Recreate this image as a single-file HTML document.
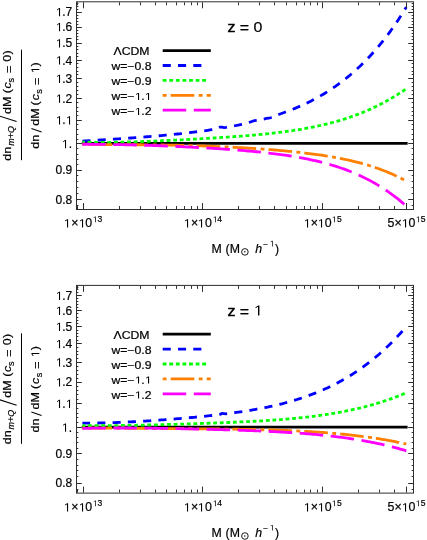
<!DOCTYPE html>
<html><head><meta charset="utf-8"><style>html,body{margin:0;padding:0;background:#fff;}svg{display:block;will-change:transform} text{stroke:#000;stroke-width:0.2px} .g1{fill:#000;stroke:#000;stroke-width:0.2px}</style></head>
<body><svg width="427" height="540" viewBox="0 0 427 540">
<rect width="427" height="540" fill="#fff"></rect>
<line x1="81.80" y1="143.46" x2="407.60" y2="143.46" stroke="#000" stroke-width="2.8"></line>
<path d="M82.40,141.15 L84.42,141.02 L86.45,140.89 L88.47,140.76 L90.50,140.63 L92.52,140.50 L94.55,140.37 L96.57,140.25 L98.60,140.12 L100.62,139.99 L102.64,139.86 L104.67,139.73 L106.69,139.60 L108.72,139.47 L110.74,139.34 L112.77,139.21 L114.79,139.08 L116.81,138.95 L118.84,138.81 L120.86,138.68 L122.89,138.54 L124.91,138.40 L126.94,138.26 L128.96,138.12 L130.99,137.98 L133.01,137.84 L135.03,137.69 L137.06,137.54 L139.08,137.39 L141.11,137.24 L143.13,137.08 L145.16,136.92 L147.18,136.76 L149.20,136.60 L151.23,136.44 L153.25,136.27 L155.28,136.10 L157.30,135.92 L159.33,135.75 L161.35,135.57 L163.38,135.38 L165.40,135.20 L167.42,135.01 L169.45,134.81 L171.47,134.61 L173.50,134.41 L175.52,134.21 L177.55,134.00 L179.57,133.79 L181.59,133.57 L183.62,133.35 L185.64,133.12 L187.67,132.89 L189.69,132.65 L191.72,132.41 L193.74,132.17 L195.77,131.91 L197.79,131.66 L199.81,131.40 L201.84,131.13 L203.86,130.85 L205.89,130.57 L207.91,130.29 L209.94,129.99 L211.96,129.69 L213.99,129.39 L216.01,129.06 L218.03,128.47 L220.06,127.18 L222.08,127.09 L224.11,127.60 L226.13,127.39 L228.16,127.03 L230.18,126.67 L232.20,126.29 L234.23,125.90 L236.25,125.50 L238.28,125.10 L240.30,124.68 L242.33,124.25 L244.35,123.80 L246.38,123.29 L248.40,122.68 L250.42,121.96 L252.45,121.23 L254.47,120.67 L256.50,120.33 L258.52,120.08 L260.55,119.76 L262.57,119.33 L264.59,118.87 L266.62,118.47 L268.64,118.13 L270.67,117.76 L272.69,117.18 L274.72,116.35 L276.74,115.43 L278.77,114.56 L280.79,113.77 L282.81,113.04 L284.84,112.30 L286.86,111.55 L288.89,110.79 L290.91,110.00 L292.94,109.19 L294.96,108.36 L296.98,107.51 L299.01,106.64 L301.03,105.74 L303.06,104.82 L305.08,103.88 L307.11,102.91 L309.13,101.91 L311.16,100.89 L313.18,99.84 L315.20,98.77 L317.23,97.66 L319.25,96.53 L321.28,95.36 L323.30,94.17 L325.33,92.94 L327.35,91.68 L329.38,90.39 L331.40,89.06 L333.42,87.70 L335.45,86.30 L337.47,84.87 L339.50,83.40 L341.52,81.89 L343.55,80.34 L345.57,78.76 L347.59,77.13 L349.62,75.46 L351.64,73.74 L353.67,71.99 L355.69,70.18 L357.72,68.33 L359.74,66.44 L361.77,64.49 L363.79,62.50 L365.81,60.46 L367.84,58.36 L369.86,56.21 L371.89,54.01 L373.91,51.75 L375.94,49.44 L377.96,47.07 L379.98,44.64 L382.01,42.15 L384.03,39.60 L386.06,36.99 L388.08,34.31 L390.11,31.57 L392.13,28.76 L394.16,25.89 L396.18,22.94 L398.20,19.93 L400.23,16.84 L402.25,13.68 L404.28,10.44 L406.30,7.13" fill="none" stroke="#0000ff" stroke-width="2.8" stroke-dasharray="8.1 7.19" stroke-dashoffset="0"></path>
<path d="M82.40,141.97 L84.42,142.03 L86.45,142.09 L88.47,142.15 L90.50,142.19 L92.52,142.23 L94.55,142.26 L96.57,142.29 L98.60,142.31 L100.62,142.32 L102.64,142.32 L104.67,142.32 L106.69,142.32 L108.72,142.31 L110.74,142.29 L112.77,142.27 L114.79,142.25 L116.81,142.22 L118.84,142.18 L120.86,142.15 L122.89,142.10 L124.91,142.06 L126.94,142.01 L128.96,141.96 L130.99,141.90 L133.01,141.84 L135.03,141.78 L137.06,141.72 L139.08,141.65 L141.11,141.58 L143.13,141.51 L145.16,141.43 L147.18,141.36 L149.20,141.28 L151.23,141.19 L153.25,141.11 L155.28,141.03 L157.30,140.94 L159.33,140.85 L161.35,140.76 L163.38,140.67 L165.40,140.58 L167.42,140.48 L169.45,140.39 L171.47,140.29 L173.50,140.19 L175.52,140.09 L177.55,139.99 L179.57,139.89 L181.59,139.79 L183.62,139.69 L185.64,139.58 L187.67,139.47 L189.69,139.37 L191.72,139.26 L193.74,139.15 L195.77,139.04 L197.79,138.93 L199.81,138.81 L201.84,138.70 L203.86,138.58 L205.89,138.46 L207.91,138.35 L209.94,138.23 L211.96,138.10 L213.99,137.98 L216.01,137.85 L218.03,137.73 L220.06,137.60 L222.08,137.47 L224.11,137.34 L226.13,137.20 L228.16,137.06 L230.18,136.92 L232.20,136.78 L234.23,136.64 L236.25,136.49 L238.28,136.34 L240.30,136.19 L242.33,136.03 L244.35,135.87 L246.38,135.71 L248.40,135.54 L250.42,135.37 L252.45,135.20 L254.47,135.02 L256.50,134.83 L258.52,134.65 L260.55,134.45 L262.57,134.26 L264.59,134.05 L266.62,133.85 L268.64,133.63 L270.67,133.41 L272.69,133.19 L274.72,132.96 L276.74,132.72 L278.77,132.47 L280.79,132.22 L282.81,131.96 L284.84,131.69 L286.86,131.42 L288.89,131.14 L290.91,130.85 L292.94,130.55 L294.96,130.24 L296.98,129.92 L299.01,129.59 L301.03,129.26 L303.06,128.91 L305.08,128.55 L307.11,128.18 L309.13,127.80 L311.16,127.41 L313.18,127.01 L315.20,126.59 L317.23,126.17 L319.25,125.73 L321.28,125.27 L323.30,124.81 L325.33,124.33 L327.35,123.83 L329.38,123.32 L331.40,122.80 L333.42,122.25 L335.45,121.70 L337.47,121.13 L339.50,120.54 L341.52,119.93 L343.55,119.31 L345.57,118.66 L347.59,118.00 L349.62,117.32 L351.64,116.63 L353.67,115.91 L355.69,115.17 L357.72,114.41 L359.74,113.63 L361.77,112.83 L363.79,112.00 L365.81,111.16 L367.84,110.29 L369.86,109.39 L371.89,108.48 L373.91,107.54 L375.94,106.57 L377.96,105.58 L379.98,104.56 L382.01,103.51 L384.03,102.44 L386.06,101.34 L388.08,100.21 L390.11,99.06 L392.13,97.87 L394.16,96.65 L396.18,95.41 L398.20,94.13 L400.23,92.82 L402.25,91.48 L404.28,90.11 L406.30,88.70" fill="none" stroke="#00ff00" stroke-width="2.8" stroke-dasharray="3.8 2.79" stroke-dashoffset="1.41"></path>
<path d="M82.40,144.04 L84.42,144.10 L86.45,144.17 L88.47,144.22 L90.50,144.28 L92.52,144.32 L94.55,144.37 L96.57,144.40 L98.60,144.44 L100.62,144.47 L102.64,144.50 L104.67,144.52 L106.69,144.55 L108.72,144.57 L110.74,144.59 L112.77,144.60 L114.79,144.62 L116.81,144.63 L118.84,144.65 L120.86,144.66 L122.89,144.67 L124.91,144.68 L126.94,144.69 L128.96,144.70 L130.99,144.71 L133.01,144.72 L135.03,144.74 L137.06,144.75 L139.08,144.76 L141.11,144.77 L143.13,144.79 L145.16,144.80 L147.18,144.82 L149.20,144.84 L151.23,144.85 L153.25,144.87 L155.28,144.89 L157.30,144.92 L159.33,144.94 L161.35,144.97 L163.38,145.00 L165.40,145.03 L167.42,145.06 L169.45,145.09 L171.47,145.13 L173.50,145.16 L175.52,145.20 L177.55,145.24 L179.57,145.29 L181.59,145.33 L183.62,145.38 L185.64,145.43 L187.67,145.48 L189.69,145.54 L191.72,145.60 L193.74,145.66 L195.77,145.72 L197.79,145.78 L199.81,145.85 L201.84,145.91 L203.86,145.98 L205.89,146.06 L207.91,146.13 L209.94,146.21 L211.96,146.29 L213.99,146.37 L216.01,146.46 L218.03,146.54 L220.06,146.63 L222.08,146.72 L224.11,146.82 L226.13,146.91 L228.16,147.01 L230.18,147.11 L232.20,147.22 L234.23,147.32 L236.25,147.43 L238.28,147.54 L240.30,147.66 L242.33,147.77 L244.35,147.89 L246.38,148.01 L248.40,148.14 L250.42,148.26 L252.45,148.39 L254.47,148.52 L256.50,148.66 L258.52,148.80 L260.55,148.94 L262.57,149.08 L264.59,149.23 L266.62,149.38 L268.64,149.54 L270.67,149.69 L272.69,149.85 L274.72,150.02 L276.74,150.19 L278.77,150.36 L280.79,150.54 L282.81,150.72 L284.84,150.90 L286.86,151.09 L288.89,151.29 L290.91,151.48 L292.94,151.69 L294.96,151.90 L296.98,152.11 L299.01,152.33 L301.03,152.55 L303.06,152.79 L305.08,153.02 L307.11,153.27 L309.13,153.52 L311.16,153.77 L313.18,154.04 L315.20,154.31 L317.23,154.59 L319.25,154.88 L321.28,155.17 L323.30,155.48 L325.33,155.79 L327.35,156.11 L329.38,156.45 L331.40,156.79 L333.42,157.14 L335.45,157.51 L337.47,157.88 L339.50,158.27 L341.52,158.66 L343.55,159.08 L345.57,159.50 L347.59,159.94 L349.62,160.39 L351.64,160.85 L353.67,161.33 L355.69,161.83 L357.72,162.34 L359.74,162.87 L361.77,163.42 L363.79,163.98 L365.81,164.56 L367.84,165.16 L369.86,165.78 L371.89,166.42 L373.91,167.08 L375.94,167.76 L377.96,168.47 L379.98,169.19 L382.01,169.95 L384.03,170.72 L386.06,171.52 L388.08,172.35 L390.11,173.20 L392.13,174.08 L394.16,174.99 L396.18,175.93 L398.20,176.90 L400.23,177.90 L402.25,178.93 L404.28,179.99 L406.30,181.09" fill="none" stroke="#ff8000" stroke-width="2.8" stroke-dasharray="23.6 4.4 3.9 4.1" stroke-dashoffset="29.75"></path>
<path d="M82.40,144.25 L84.42,144.25 L86.45,144.26 L88.47,144.27 L90.50,144.28 L92.52,144.29 L94.55,144.31 L96.57,144.32 L98.60,144.34 L100.62,144.36 L102.64,144.38 L104.67,144.40 L106.69,144.43 L108.72,144.46 L110.74,144.48 L112.77,144.52 L114.79,144.55 L116.81,144.58 L118.84,144.62 L120.86,144.66 L122.89,144.70 L124.91,144.74 L126.94,144.79 L128.96,144.83 L130.99,144.88 L133.01,144.93 L135.03,144.98 L137.06,145.04 L139.08,145.09 L141.11,145.15 L143.13,145.21 L145.16,145.27 L147.18,145.34 L149.20,145.40 L151.23,145.47 L153.25,145.54 L155.28,145.61 L157.30,145.68 L159.33,145.75 L161.35,145.83 L163.38,145.91 L165.40,145.99 L167.42,146.07 L169.45,146.15 L171.47,146.24 L173.50,146.32 L175.52,146.41 L177.55,146.50 L179.57,146.59 L181.59,146.69 L183.62,146.78 L185.64,146.88 L187.67,146.98 L189.69,147.08 L191.72,147.18 L193.74,147.28 L195.77,147.39 L197.79,147.50 L199.81,147.61 L201.84,147.72 L203.86,147.83 L205.89,147.95 L207.91,148.07 L209.94,148.19 L211.96,148.31 L213.99,148.43 L216.01,148.56 L218.03,148.69 L220.06,148.82 L222.08,148.96 L224.11,149.10 L226.13,149.24 L228.16,149.38 L230.18,149.52 L232.20,149.67 L234.23,149.83 L236.25,149.98 L238.28,150.14 L240.30,150.30 L242.33,150.47 L244.35,150.64 L246.38,150.81 L248.40,150.99 L250.42,151.17 L252.45,151.36 L254.47,151.55 L256.50,151.75 L258.52,151.95 L260.55,152.16 L262.57,152.37 L264.59,152.59 L266.62,152.81 L268.64,153.04 L270.67,153.28 L272.69,153.52 L274.72,153.77 L276.74,154.03 L278.77,154.30 L280.79,154.57 L282.81,154.85 L284.84,155.14 L286.86,155.44 L288.89,155.75 L290.91,156.06 L292.94,156.39 L294.96,156.72 L296.98,157.07 L299.01,157.43 L301.03,157.80 L303.06,158.18 L305.08,158.57 L307.11,158.97 L309.13,159.39 L311.16,159.82 L313.18,160.27 L315.20,160.73 L317.23,161.20 L319.25,161.69 L321.28,162.19 L323.30,162.71 L325.33,163.25 L327.35,163.80 L329.38,164.38 L331.40,164.97 L333.42,165.57 L335.45,166.20 L337.47,166.85 L339.50,167.52 L341.52,168.21 L343.55,168.93 L345.57,169.66 L347.59,170.42 L349.62,171.20 L351.64,172.01 L353.67,172.85 L355.69,173.70 L357.72,174.59 L359.74,175.50 L361.77,176.45 L363.79,177.42 L365.81,178.42 L367.84,179.45 L369.86,180.51 L371.89,181.61 L373.91,182.74 L375.94,183.90 L377.96,185.10 L379.98,186.33 L382.01,187.61 L384.03,188.91 L386.06,190.26 L388.08,191.65 L390.11,193.08 L392.13,194.55 L394.16,196.06 L396.18,197.62 L398.20,199.22 L400.23,200.86 L402.25,202.56 L404.28,204.30 L406.30,206.09" fill="none" stroke="#ff00ff" stroke-width="2.8" stroke-dasharray="23.5 7.58" stroke-dashoffset="0.22"></path>
<rect x="76.5" y="1.80" width="337.0" height="207.7" fill="none" stroke="#2e2e2e" stroke-width="1"></rect>
<path d="M77.0,199.5h4.8M413.0,199.5h-4.8M77.0,170.5h4.8M413.0,170.5h-4.8M77.0,143.5h4.8M413.0,143.5h-4.8M77.0,120.5h4.8M413.0,120.5h-4.8M77.0,98.5h4.8M413.0,98.5h-4.8M77.0,78.5h4.8M413.0,78.5h-4.8M77.0,60.5h4.8M413.0,60.5h-4.8M77.0,43.5h4.8M413.0,43.5h-4.8M77.0,27.5h4.8M413.0,27.5h-4.8M77.0,12.5h4.8M413.0,12.5h-4.8M83.5,209.0v-6M83.5,2.3v6M202.5,209.0v-6M202.5,2.3v6M322.5,209.0v-6M322.5,2.3v6M406.5,209.0v-6M406.5,2.3v6" stroke="#2e2e2e" stroke-width="1" fill="none"></path>
<path d="M77.0,205.5h1.4M413.0,205.5h-1.4M77.0,193.5h1.4M413.0,193.5h-1.4M77.0,187.5h1.4M413.0,187.5h-1.4M77.0,181.5h1.4M413.0,181.5h-1.4M77.0,175.5h1.4M413.0,175.5h-1.4M77.0,164.5h1.4M413.0,164.5h-1.4M77.0,159.5h1.4M413.0,159.5h-1.4M77.0,154.5h1.4M413.0,154.5h-1.4M77.0,148.5h1.4M413.0,148.5h-1.4M77.0,139.5h1.4M413.0,139.5h-1.4M77.0,134.5h1.4M413.0,134.5h-1.4M77.0,129.5h1.4M413.0,129.5h-1.4M77.0,124.5h1.4M413.0,124.5h-1.4M77.0,115.5h1.4M413.0,115.5h-1.4M77.0,111.5h1.4M413.0,111.5h-1.4M77.0,107.5h1.4M413.0,107.5h-1.4M77.0,102.5h1.4M413.0,102.5h-1.4M77.0,94.5h1.4M413.0,94.5h-1.4M77.0,90.5h1.4M413.0,90.5h-1.4M77.0,86.5h1.4M413.0,86.5h-1.4M77.0,82.5h1.4M413.0,82.5h-1.4M77.0,74.5h1.4M413.0,74.5h-1.4M77.0,71.5h1.4M413.0,71.5h-1.4M77.0,67.5h1.4M413.0,67.5h-1.4M77.0,63.5h1.4M413.0,63.5h-1.4M77.0,56.5h1.4M413.0,56.5h-1.4M77.0,53.5h1.4M413.0,53.5h-1.4M77.0,49.5h1.4M413.0,49.5h-1.4M77.0,46.5h1.4M413.0,46.5h-1.4M77.0,39.5h1.4M413.0,39.5h-1.4M77.0,36.5h1.4M413.0,36.5h-1.4M77.0,33.5h1.4M413.0,33.5h-1.4M77.0,30.5h1.4M413.0,30.5h-1.4M77.0,24.5h1.4M413.0,24.5h-1.4M77.0,21.5h1.4M413.0,21.5h-1.4M77.0,18.5h1.4M413.0,18.5h-1.4M77.0,15.5h1.4M413.0,15.5h-1.4M77.0,9.5h1.4M413.0,9.5h-1.4M77.0,6.5h1.4M413.0,6.5h-1.4M77.0,3.5h1.4M413.0,3.5h-1.4M77.5,209.0v-3M77.5,2.3v3M119.5,209.0v-3M119.5,2.3v3M140.5,209.0v-3M140.5,2.3v3M155.5,209.0v-3M155.5,2.3v3M166.5,209.0v-3M166.5,2.3v3M176.5,209.0v-3M176.5,2.3v3M184.5,209.0v-3M184.5,2.3v3M191.5,209.0v-3M191.5,2.3v3M197.5,209.0v-3M197.5,2.3v3M238.5,209.0v-3M238.5,2.3v3M259.5,209.0v-3M259.5,2.3v3M274.5,209.0v-3M274.5,2.3v3M286.5,209.0v-3M286.5,2.3v3M296.5,209.0v-3M296.5,2.3v3M304.5,209.0v-3M304.5,2.3v3M310.5,209.0v-3M310.5,2.3v3M317.5,209.0v-3M317.5,2.3v3M358.5,209.0v-3M358.5,2.3v3M379.5,209.0v-3M379.5,2.3v3M394.5,209.0v-3M394.5,2.3v3" stroke="#333" stroke-width="1" fill="none"></path>
<text x="72.20" y="203.61" font-size="12" text-anchor="end" font-family="Liberation Sans, sans-serif">0.8</text>
<text x="72.20" y="174.34" font-size="12" text-anchor="end" font-family="Liberation Sans, sans-serif">0.9</text>
<text x="72.20" y="148.16" font-size="12" text-anchor="end" font-family="Liberation Sans, sans-serif"> .</text><path transform="translate(61.98,148.16) scale(0.005859,-0.005859)" d="M515,0 L515,1237 L197,1010 L197,1180 L530,1409 L696,1409 L696,0 Z" class="g1"></path>
<text x="72.20" y="124.48" font-size="12" text-anchor="end" font-family="Liberation Sans, sans-serif"> . </text><path transform="translate(65.98,124.48) scale(0.005859,-0.005859)" d="M515,0 L515,1237 L197,1010 L197,1180 L530,1409 L696,1409 L696,0 Z" class="g1"></path><path transform="translate(55.98,124.48) scale(0.005859,-0.005859)" d="M515,0 L515,1237 L197,1010 L197,1180 L530,1409 L696,1409 L696,0 Z" class="g1"></path>
<text x="72.20" y="102.85" font-size="12" text-anchor="end" font-family="Liberation Sans, sans-serif"> .2</text><path transform="translate(55.98,102.85) scale(0.005859,-0.005859)" d="M515,0 L515,1237 L197,1010 L197,1180 L530,1409 L696,1409 L696,0 Z" class="g1"></path>
<text x="72.20" y="82.96" font-size="12" text-anchor="end" font-family="Liberation Sans, sans-serif"> .3</text><path transform="translate(55.98,82.96) scale(0.005859,-0.005859)" d="M515,0 L515,1237 L197,1010 L197,1180 L530,1409 L696,1409 L696,0 Z" class="g1"></path>
<text x="72.20" y="64.55" font-size="12" text-anchor="end" font-family="Liberation Sans, sans-serif"> .4</text><path transform="translate(55.98,64.55) scale(0.005859,-0.005859)" d="M515,0 L515,1237 L197,1010 L197,1180 L530,1409 L696,1409 L696,0 Z" class="g1"></path>
<text x="72.20" y="47.40" font-size="12" text-anchor="end" font-family="Liberation Sans, sans-serif"> .5</text><path transform="translate(55.98,47.40) scale(0.005859,-0.005859)" d="M515,0 L515,1237 L197,1010 L197,1180 L530,1409 L696,1409 L696,0 Z" class="g1"></path>
<text x="72.20" y="31.36" font-size="12" text-anchor="end" font-family="Liberation Sans, sans-serif"> .6</text><path transform="translate(55.98,31.36) scale(0.005859,-0.005859)" d="M515,0 L515,1237 L197,1010 L197,1180 L530,1409 L696,1409 L696,0 Z" class="g1"></path>
<text x="72.20" y="16.30" font-size="12" text-anchor="end" font-family="Liberation Sans, sans-serif"> .7</text><path transform="translate(55.98,16.30) scale(0.005859,-0.005859)" d="M515,0 L515,1237 L197,1010 L197,1180 L530,1409 L696,1409 L696,0 Z" class="g1"></path>
<text transform="translate(83.30,227.40) scale(1.03,1)" text-anchor="middle" font-size="12" font-family="Liberation Sans, sans-serif"> × 0<tspan font-size="8.3" dy="-5.2" dx="0.6"> 3</tspan></text><path transform="translate(83.30,227.40) scale(1.03,1) translate(9.27,-5.20) scale(0.004053,-0.004053)" d="M515,0 L515,1237 L197,1010 L197,1180 L530,1409 L696,1409 L696,0 Z" class="g1"></path><path transform="translate(83.30,227.40) scale(1.03,1) translate(-4.28,0.00) scale(0.005859,-0.005859)" d="M515,0 L515,1237 L197,1010 L197,1180 L530,1409 L696,1409 L696,0 Z" class="g1"></path><path transform="translate(83.30,227.40) scale(1.03,1) translate(-18.84,0.00) scale(0.005859,-0.005859)" d="M515,0 L515,1237 L197,1010 L197,1180 L530,1409 L696,1409 L696,0 Z" class="g1"></path>
<text transform="translate(203.05,227.40) scale(1.03,1)" text-anchor="middle" font-size="12" font-family="Liberation Sans, sans-serif"> × 0<tspan font-size="8.3" dy="-5.2" dx="0.6"> 4</tspan></text><path transform="translate(203.05,227.40) scale(1.03,1) translate(9.51,-5.20) scale(0.004053,-0.004053)" d="M515,0 L515,1237 L197,1010 L197,1180 L530,1409 L696,1409 L696,0 Z" class="g1"></path><path transform="translate(203.05,227.40) scale(1.03,1) translate(-5.01,0.00) scale(0.005859,-0.005859)" d="M515,0 L515,1237 L197,1010 L197,1180 L530,1409 L696,1409 L696,0 Z" class="g1"></path><path transform="translate(203.05,227.40) scale(1.03,1) translate(-18.60,0.00) scale(0.005859,-0.005859)" d="M515,0 L515,1237 L197,1010 L197,1180 L530,1409 L696,1409 L696,0 Z" class="g1"></path>
<text transform="translate(322.80,227.40) scale(1.03,1)" text-anchor="middle" font-size="12" font-family="Liberation Sans, sans-serif"> × 0<tspan font-size="8.3" dy="-5.2" dx="0.6"> 5</tspan></text><path transform="translate(322.80,227.40) scale(1.03,1) translate(8.79,-5.20) scale(0.004053,-0.004053)" d="M515,0 L515,1237 L197,1010 L197,1180 L530,1409 L696,1409 L696,0 Z" class="g1"></path><path transform="translate(322.80,227.40) scale(1.03,1) translate(-4.77,0.00) scale(0.005859,-0.005859)" d="M515,0 L515,1237 L197,1010 L197,1180 L530,1409 L696,1409 L696,0 Z" class="g1"></path><path transform="translate(322.80,227.40) scale(1.03,1) translate(-18.36,0.00) scale(0.005859,-0.005859)" d="M515,0 L515,1237 L197,1010 L197,1180 L530,1409 L696,1409 L696,0 Z" class="g1"></path>
<text transform="translate(406.50,227.40) scale(1.03,1)" text-anchor="middle" font-size="12" font-family="Liberation Sans, sans-serif">5× 0<tspan font-size="8.3" dy="-5.2" dx="0.6"> 5</tspan></text><path transform="translate(406.50,227.40) scale(1.03,1) translate(9.08,-5.20) scale(0.004053,-0.004053)" d="M515,0 L515,1237 L197,1010 L197,1180 L530,1409 L696,1409 L696,0 Z" class="g1"></path><path transform="translate(406.50,227.40) scale(1.03,1) translate(-4.47,0.00) scale(0.005859,-0.005859)" d="M515,0 L515,1237 L197,1010 L197,1180 L530,1409 L696,1409 L696,0 Z" class="g1"></path>
<text x="211.40" y="252.60" font-size="12.3" text-anchor="start" font-family="Liberation Sans, sans-serif">M</text>
<text x="225.60" y="252.60" font-size="12.3" text-anchor="start" font-family="Liberation Sans, sans-serif">(</text>
<text x="229.80" y="252.60" font-size="12.3" text-anchor="start" font-family="Liberation Sans, sans-serif">M</text>
<circle cx="244.9" cy="251.90" r="3.3" fill="none" stroke="#000" stroke-width="0.9"></circle><circle cx="244.8" cy="251.80" r="0.75" fill="#000"></circle>
<text x="255.3" y="252.60" font-size="12.3" font-family="Liberation Sans, sans-serif" font-style="italic">h</text>
<text x="263.20" y="246.50" font-size="8.3" text-anchor="start" font-family="Liberation Sans, sans-serif">−</text>
<text x="269.50" y="246.50" font-size="8.3" text-anchor="start" font-family="Liberation Sans, sans-serif"> </text><path transform="translate(269.91,246.50) scale(0.004053,-0.004053)" d="M515,0 L515,1237 L197,1010 L197,1180 L530,1409 L696,1409 L696,0 Z" class="g1"></path>
<text x="275.00" y="252.60" font-size="12.3" text-anchor="start" font-family="Liberation Sans, sans-serif">)</text>
<text transform="translate(227.40,31.90) scale(1.1,1)" font-size="14.5" text-anchor="start" font-family="Liberation Sans, sans-serif"><tspan stroke="#000" stroke-width="0.45">z</tspan> <tspan dy="1.3">=</tspan> <tspan dy="-1.3">0</tspan></text>
<text transform="translate(131.50,55.30) scale(1.2,1)" font-size="10.2" text-anchor="middle" font-family="Liberation Sans, sans-serif">ΛCDM</text>
<line x1="162.7" y1="50.60" x2="210.8" y2="50.60" stroke="#000000" stroke-width="2.8" stroke-dashoffset="0"></line>
<text transform="translate(131.50,70.20) scale(1.2,1)" font-size="10.2" text-anchor="middle" font-family="Liberation Sans, sans-serif">w=−0.8</text>
<line x1="162.7" y1="65.50" x2="204" y2="65.50" stroke="#0000ff" stroke-width="2.8" stroke-dasharray="8.1 7.19" stroke-dashoffset="0"></line>
<text transform="translate(131.50,85.10) scale(1.2,1)" font-size="10.2" text-anchor="middle" font-family="Liberation Sans, sans-serif">w=−0.9</text>
<line x1="162.7" y1="80.40" x2="206.5" y2="80.40" stroke="#00ff00" stroke-width="2.8" stroke-dasharray="3.8 2.79" stroke-dashoffset="0"></line>
<text transform="translate(131.50,100.00) scale(1.2,1)" font-size="10.2" text-anchor="middle" font-family="Liberation Sans, sans-serif">w=− . </text><path transform="translate(131.50,100.00) scale(1.2,1) translate(11.19,0.00) scale(0.004980,-0.004980)" d="M515,0 L515,1237 L197,1010 L197,1180 L530,1409 L696,1409 L696,0 Z" class="g1"></path><path transform="translate(131.50,100.00) scale(1.2,1) translate(2.85,0.00) scale(0.004980,-0.004980)" d="M515,0 L515,1237 L197,1010 L197,1180 L530,1409 L696,1409 L696,0 Z" class="g1"></path>
<line x1="162.7" y1="95.30" x2="210.8" y2="95.30" stroke="#ff8000" stroke-width="2.8" stroke-dasharray="23.6 4.4 3.9 4.1" stroke-dashoffset="28.0"></line>
<text transform="translate(131.50,114.90) scale(1.2,1)" font-size="10.2" text-anchor="middle" font-family="Liberation Sans, sans-serif">w=− .2</text><path transform="translate(131.50,114.90) scale(1.2,1) translate(2.85,0.00) scale(0.004980,-0.004980)" d="M515,0 L515,1237 L197,1010 L197,1180 L530,1409 L696,1409 L696,0 Z" class="g1"></path>
<line x1="162.7" y1="110.20" x2="210.8" y2="110.20" stroke="#ff00ff" stroke-width="2.8" stroke-dasharray="23.5 7.58" stroke-dashoffset="0"></line>
<g transform="rotate(-90)"><text transform="translate(-160.63,11.30) scale(1.1,1)" font-size="11.4" font-family="Liberation Sans, sans-serif">dn</text><text transform="translate(-145.85,14.00) scale(1.1,1)" font-size="8.2" font-family="Liberation Sans, sans-serif" font-style="italic">m+Q</text><text transform="translate(-114.03,11.30) scale(1.1,1)" font-size="11.4" font-family="Liberation Sans, sans-serif">dM</text><text transform="translate(-93.18,11.30) scale(1.1,1)" font-size="11.4" font-family="Liberation Sans, sans-serif">(</text><text transform="translate(-88.41,11.30) scale(1.1,1)" font-size="11.4" font-family="Liberation Sans, sans-serif" font-style="italic">c</text><text transform="translate(-82.45,13.80) scale(1.1,1)" font-size="8.2" font-family="Liberation Sans, sans-serif">s</text><text transform="translate(-73.11,12.50) scale(1.1,1)" font-size="11.4" font-family="Liberation Sans, sans-serif">=</text><text transform="translate(-61.69,11.30) scale(1.1,1)" font-size="11.4" font-family="Liberation Sans, sans-serif">0</text><text transform="translate(-54.38,11.30) scale(1.1,1)" font-size="11.4" font-family="Liberation Sans, sans-serif">)</text><text transform="translate(-148.83,39.30) scale(1.1,1)" font-size="11.4" font-family="Liberation Sans, sans-serif">dn</text><text transform="translate(-125.83,39.30) scale(1.1,1)" font-size="11.4" font-family="Liberation Sans, sans-serif">dM</text><text transform="translate(-105.48,39.30) scale(1.1,1)" font-size="11.4" font-family="Liberation Sans, sans-serif">(</text><text transform="translate(-100.31,39.30) scale(1.1,1)" font-size="11.4" font-family="Liberation Sans, sans-serif" font-style="italic">c</text><text transform="translate(-93.65,41.80) scale(1.1,1)" font-size="8.2" font-family="Liberation Sans, sans-serif">s</text><text transform="translate(-85.11,40.50) scale(1.1,1)" font-size="11.4" font-family="Liberation Sans, sans-serif">=</text><text transform="translate(-73.65,39.30) scale(1.1,1)" font-size="11.4" font-family="Liberation Sans, sans-serif"> </text><path transform="translate(-73.65,39.30) scale(1.1,1) translate(0.35,0.00) scale(0.005566,-0.005566)" d="M515,0 L515,1237 L197,1010 L197,1180 L530,1409 L696,1409 L696,0 Z" class="g1"></path><text transform="translate(-66.58,39.30) scale(1.1,1)" font-size="11.4" font-family="Liberation Sans, sans-serif">)</text></g>
<line x1="16.6" y1="121.60" x2="-0.5" y2="116.10" stroke="#000" stroke-width="1.05"></line>
<line x1="41.6" y1="131.90" x2="31.4" y2="128.40" stroke="#000" stroke-width="1.05"></line>
<line x1="21.5" y1="49.70" x2="21.5" y2="160.20" stroke="#000" stroke-width="1"></line>
<line x1="81.80" y1="427.06" x2="407.60" y2="427.06" stroke="#000" stroke-width="2.8"></line>
<path d="M82.40,423.07 L84.42,423.09 L86.45,423.10 L88.47,423.10 L90.50,423.09 L92.52,423.08 L94.55,423.06 L96.57,423.04 L98.60,423.01 L100.62,422.97 L102.64,422.93 L104.67,422.88 L106.69,422.83 L108.72,422.77 L110.74,422.70 L112.77,422.64 L114.79,422.56 L116.81,422.49 L118.84,422.41 L120.86,422.32 L122.89,422.23 L124.91,422.14 L126.94,422.04 L128.96,421.95 L130.99,421.84 L133.01,421.74 L135.03,421.63 L137.06,421.51 L139.08,421.40 L141.11,421.28 L143.13,421.16 L145.16,421.04 L147.18,420.91 L149.20,420.78 L151.23,420.65 L153.25,420.52 L155.28,420.38 L157.30,420.24 L159.33,420.10 L161.35,419.95 L163.38,419.81 L165.40,419.66 L167.42,419.51 L169.45,419.36 L171.47,419.20 L173.50,419.04 L175.52,418.88 L177.55,418.72 L179.57,418.55 L181.59,418.38 L183.62,418.21 L185.64,418.04 L187.67,417.86 L189.69,417.68 L191.72,417.50 L193.74,417.31 L195.77,417.12 L197.79,416.93 L199.81,416.74 L201.84,416.54 L203.86,416.34 L205.89,416.13 L207.91,415.92 L209.94,415.71 L211.96,415.49 L213.99,415.26 L216.01,415.04 L218.03,414.79 L220.06,414.31 L222.08,413.46 L224.11,413.55 L226.13,413.77 L228.16,413.57 L230.18,413.31 L232.20,413.04 L234.23,412.76 L236.25,412.48 L238.28,412.19 L240.30,411.89 L242.33,411.59 L244.35,411.28 L246.38,410.96 L248.40,410.63 L250.42,410.29 L252.45,409.95 L254.47,409.60 L256.50,409.23 L258.52,408.86 L260.55,408.48 L262.57,408.09 L264.59,407.69 L266.62,407.27 L268.64,406.85 L270.67,406.41 L272.69,405.96 L274.72,405.50 L276.74,405.03 L278.77,404.55 L280.79,404.05 L282.81,403.53 L284.84,403.01 L286.86,402.46 L288.89,401.91 L290.91,401.34 L292.94,400.75 L294.96,400.14 L296.98,399.52 L299.01,398.89 L301.03,398.23 L303.06,397.56 L305.08,396.87 L307.11,396.16 L309.13,395.43 L311.16,394.68 L313.18,393.91 L315.20,393.11 L317.23,392.30 L319.25,391.47 L321.28,390.61 L323.30,389.73 L325.33,388.83 L327.35,387.90 L329.38,386.95 L331.40,385.97 L333.42,384.97 L335.45,383.94 L337.47,382.89 L339.50,381.80 L341.52,380.69 L343.55,379.55 L345.57,378.38 L347.59,377.19 L349.62,375.96 L351.64,374.70 L353.67,373.41 L355.69,372.08 L357.72,370.73 L359.74,369.34 L361.77,367.91 L363.79,366.46 L365.81,364.96 L367.84,363.43 L369.86,361.86 L371.89,360.26 L373.91,358.62 L375.94,356.94 L377.96,355.21 L379.98,353.45 L382.01,351.65 L384.03,349.81 L386.06,347.92 L388.08,345.99 L390.11,344.02 L392.13,342.00 L394.16,339.93 L396.18,337.82 L398.20,335.66 L400.23,333.46 L402.25,331.21 L404.28,328.90 L406.30,326.55" fill="none" stroke="#0000ff" stroke-width="2.8" stroke-dasharray="8.1 7.19" stroke-dashoffset="0.39"></path>
<path d="M82.40,425.56 L84.42,425.59 L86.45,425.62 L88.47,425.64 L90.50,425.65 L92.52,425.66 L94.55,425.67 L96.57,425.68 L98.60,425.68 L100.62,425.68 L102.64,425.68 L104.67,425.67 L106.69,425.66 L108.72,425.65 L110.74,425.63 L112.77,425.61 L114.79,425.59 L116.81,425.57 L118.84,425.55 L120.86,425.52 L122.89,425.49 L124.91,425.46 L126.94,425.43 L128.96,425.39 L130.99,425.36 L133.01,425.32 L135.03,425.28 L137.06,425.24 L139.08,425.20 L141.11,425.16 L143.13,425.11 L145.16,425.07 L147.18,425.02 L149.20,424.98 L151.23,424.93 L153.25,424.88 L155.28,424.83 L157.30,424.78 L159.33,424.72 L161.35,424.67 L163.38,424.62 L165.40,424.56 L167.42,424.51 L169.45,424.45 L171.47,424.40 L173.50,424.34 L175.52,424.28 L177.55,424.22 L179.57,424.16 L181.59,424.10 L183.62,424.04 L185.64,423.98 L187.67,423.92 L189.69,423.85 L191.72,423.79 L193.74,423.73 L195.77,423.66 L197.79,423.60 L199.81,423.53 L201.84,423.46 L203.86,423.39 L205.89,423.32 L207.91,423.25 L209.94,423.18 L211.96,423.11 L213.99,423.04 L216.01,422.96 L218.03,422.89 L220.06,422.81 L222.08,422.73 L224.11,422.66 L226.13,422.57 L228.16,422.49 L230.18,422.41 L232.20,422.32 L234.23,422.24 L236.25,422.15 L238.28,422.06 L240.30,421.96 L242.33,421.87 L244.35,421.77 L246.38,421.67 L248.40,421.57 L250.42,421.47 L252.45,421.36 L254.47,421.25 L256.50,421.14 L258.52,421.02 L260.55,420.91 L262.57,420.78 L264.59,420.66 L266.62,420.53 L268.64,420.40 L270.67,420.26 L272.69,420.13 L274.72,419.98 L276.74,419.84 L278.77,419.68 L280.79,419.53 L282.81,419.37 L284.84,419.20 L286.86,419.03 L288.89,418.86 L290.91,418.68 L292.94,418.49 L294.96,418.30 L296.98,418.10 L299.01,417.90 L301.03,417.69 L303.06,417.47 L305.08,417.25 L307.11,417.02 L309.13,416.79 L311.16,416.55 L313.18,416.30 L315.20,416.04 L317.23,415.77 L319.25,415.50 L321.28,415.22 L323.30,414.93 L325.33,414.63 L327.35,414.33 L329.38,414.01 L331.40,413.69 L333.42,413.35 L335.45,413.01 L337.47,412.65 L339.50,412.29 L341.52,411.92 L343.55,411.53 L345.57,411.13 L347.59,410.73 L349.62,410.31 L351.64,409.88 L353.67,409.43 L355.69,408.98 L357.72,408.51 L359.74,408.03 L361.77,407.54 L363.79,407.03 L365.81,406.51 L367.84,405.98 L369.86,405.43 L371.89,404.87 L373.91,404.29 L375.94,403.70 L377.96,403.09 L379.98,402.47 L382.01,401.83 L384.03,401.17 L386.06,400.50 L388.08,399.81 L390.11,399.10 L392.13,398.38 L394.16,397.64 L396.18,396.88 L398.20,396.10 L400.23,395.30 L402.25,394.48 L404.28,393.64 L406.30,392.79" fill="none" stroke="#00ff00" stroke-width="2.8" stroke-dasharray="3.8 2.79" stroke-dashoffset="0.95"></path>
<path d="M82.40,427.98 L84.42,428.00 L86.45,428.01 L88.47,428.02 L90.50,428.03 L92.52,428.05 L94.55,428.06 L96.57,428.08 L98.60,428.09 L100.62,428.11 L102.64,428.12 L104.67,428.14 L106.69,428.15 L108.72,428.17 L110.74,428.18 L112.77,428.20 L114.79,428.21 L116.81,428.23 L118.84,428.25 L120.86,428.26 L122.89,428.28 L124.91,428.29 L126.94,428.31 L128.96,428.32 L130.99,428.34 L133.01,428.35 L135.03,428.37 L137.06,428.39 L139.08,428.40 L141.11,428.42 L143.13,428.43 L145.16,428.44 L147.18,428.46 L149.20,428.47 L151.23,428.49 L153.25,428.50 L155.28,428.52 L157.30,428.53 L159.33,428.55 L161.35,428.56 L163.38,428.57 L165.40,428.59 L167.42,428.60 L169.45,428.62 L171.47,428.63 L173.50,428.64 L175.52,428.66 L177.55,428.67 L179.57,428.68 L181.59,428.70 L183.62,428.71 L185.64,428.73 L187.67,428.74 L189.69,428.76 L191.72,428.77 L193.74,428.79 L195.77,428.80 L197.79,428.82 L199.81,428.83 L201.84,428.85 L203.86,428.87 L205.89,428.88 L207.91,428.90 L209.94,428.92 L211.96,428.94 L213.99,428.96 L216.01,428.98 L218.03,429.00 L220.06,429.02 L222.08,429.04 L224.11,429.07 L226.13,429.09 L228.16,429.11 L230.18,429.14 L232.20,429.17 L234.23,429.20 L236.25,429.22 L238.28,429.25 L240.30,429.29 L242.33,429.32 L244.35,429.35 L246.38,429.39 L248.40,429.42 L250.42,429.46 L252.45,429.50 L254.47,429.55 L256.50,429.59 L258.52,429.63 L260.55,429.68 L262.57,429.73 L264.59,429.78 L266.62,429.83 L268.64,429.89 L270.67,429.95 L272.69,430.01 L274.72,430.07 L276.74,430.13 L278.77,430.20 L280.79,430.27 L282.81,430.34 L284.84,430.42 L286.86,430.50 L288.89,430.58 L290.91,430.66 L292.94,430.75 L294.96,430.84 L296.98,430.94 L299.01,431.03 L301.03,431.13 L303.06,431.24 L305.08,431.35 L307.11,431.46 L309.13,431.58 L311.16,431.70 L313.18,431.82 L315.20,431.95 L317.23,432.08 L319.25,432.22 L321.28,432.36 L323.30,432.51 L325.33,432.66 L327.35,432.81 L329.38,432.97 L331.40,433.14 L333.42,433.31 L335.45,433.49 L337.47,433.67 L339.50,433.86 L341.52,434.05 L343.55,434.25 L345.57,434.45 L347.59,434.66 L349.62,434.88 L351.64,435.10 L353.67,435.33 L355.69,435.57 L357.72,435.81 L359.74,436.06 L361.77,436.31 L363.79,436.58 L365.81,436.85 L367.84,437.13 L369.86,437.41 L371.89,437.70 L373.91,438.00 L375.94,438.31 L377.96,438.63 L379.98,438.95 L382.01,439.29 L384.03,439.63 L386.06,439.98 L388.08,440.33 L390.11,440.70 L392.13,441.08 L394.16,441.46 L396.18,441.86 L398.20,442.26 L400.23,442.68 L402.25,443.10 L404.28,443.53 L406.30,443.98" fill="none" stroke="#ff8000" stroke-width="2.8" stroke-dasharray="23.6 4.4 3.9 4.1" stroke-dashoffset="30.05"></path>
<path d="M82.40,428.44 L84.42,428.39 L86.45,428.34 L88.47,428.29 L90.50,428.25 L92.52,428.21 L94.55,428.17 L96.57,428.14 L98.60,428.11 L100.62,428.08 L102.64,428.06 L104.67,428.04 L106.69,428.03 L108.72,428.01 L110.74,428.00 L112.77,427.99 L114.79,427.99 L116.81,427.98 L118.84,427.98 L120.86,427.98 L122.89,427.99 L124.91,427.99 L126.94,428.00 L128.96,428.01 L130.99,428.02 L133.01,428.03 L135.03,428.05 L137.06,428.06 L139.08,428.08 L141.11,428.10 L143.13,428.12 L145.16,428.14 L147.18,428.17 L149.20,428.19 L151.23,428.22 L153.25,428.25 L155.28,428.27 L157.30,428.30 L159.33,428.33 L161.35,428.37 L163.38,428.40 L165.40,428.43 L167.42,428.47 L169.45,428.50 L171.47,428.54 L173.50,428.58 L175.52,428.61 L177.55,428.65 L179.57,428.69 L181.59,428.73 L183.62,428.77 L185.64,428.82 L187.67,428.86 L189.69,428.90 L191.72,428.95 L193.74,428.99 L195.77,429.04 L197.79,429.08 L199.81,429.13 L201.84,429.18 L203.86,429.23 L205.89,429.28 L207.91,429.33 L209.94,429.38 L211.96,429.43 L213.99,429.48 L216.01,429.54 L218.03,429.59 L220.06,429.65 L222.08,429.70 L224.11,429.76 L226.13,429.82 L228.16,429.88 L230.18,429.94 L232.20,430.00 L234.23,430.07 L236.25,430.13 L238.28,430.20 L240.30,430.26 L242.33,430.33 L244.35,430.40 L246.38,430.48 L248.40,430.55 L250.42,430.62 L252.45,430.70 L254.47,430.78 L256.50,430.86 L258.52,430.94 L260.55,431.03 L262.57,431.12 L264.59,431.21 L266.62,431.30 L268.64,431.39 L270.67,431.49 L272.69,431.59 L274.72,431.69 L276.74,431.80 L278.77,431.91 L280.79,432.02 L282.81,432.13 L284.84,432.25 L286.86,432.37 L288.89,432.49 L290.91,432.62 L292.94,432.75 L294.96,432.89 L296.98,433.03 L299.01,433.17 L301.03,433.32 L303.06,433.47 L305.08,433.63 L307.11,433.79 L309.13,433.95 L311.16,434.12 L313.18,434.30 L315.20,434.48 L317.23,434.67 L319.25,434.86 L321.28,435.06 L323.30,435.26 L325.33,435.47 L327.35,435.68 L329.38,435.90 L331.40,436.13 L333.42,436.37 L335.45,436.61 L337.47,436.86 L339.50,437.11 L341.52,437.37 L343.55,437.64 L345.57,437.92 L347.59,438.21 L349.62,438.50 L351.64,438.80 L353.67,439.11 L355.69,439.43 L357.72,439.76 L359.74,440.09 L361.77,440.44 L363.79,440.79 L365.81,441.16 L367.84,441.53 L369.86,441.91 L371.89,442.31 L373.91,442.71 L375.94,443.13 L377.96,443.56 L379.98,443.99 L382.01,444.44 L384.03,444.90 L386.06,445.37 L388.08,445.86 L390.11,446.35 L392.13,446.86 L394.16,447.38 L396.18,447.92 L398.20,448.46 L400.23,449.03 L402.25,449.60 L404.28,450.19 L406.30,450.79" fill="none" stroke="#ff00ff" stroke-width="2.8" stroke-dasharray="23.5 7.58" stroke-dashoffset="0.11"></path>
<rect x="76.5" y="285.40" width="337.0" height="207.7" fill="none" stroke="#2e2e2e" stroke-width="1"></rect>
<path d="M77.0,483.5h4.8M413.0,483.5h-4.8M77.0,453.5h4.8M413.0,453.5h-4.8M77.0,427.5h4.8M413.0,427.5h-4.8M77.0,403.5h4.8M413.0,403.5h-4.8M77.0,382.5h4.8M413.0,382.5h-4.8M77.0,362.5h4.8M413.0,362.5h-4.8M77.0,343.5h4.8M413.0,343.5h-4.8M77.0,326.5h4.8M413.0,326.5h-4.8M77.0,310.5h4.8M413.0,310.5h-4.8M77.0,295.5h4.8M413.0,295.5h-4.8M83.5,492.6v-6M83.5,285.90000000000003v6M202.5,492.6v-6M202.5,285.90000000000003v6M322.5,492.6v-6M322.5,285.90000000000003v6M406.5,492.6v-6M406.5,285.90000000000003v6" stroke="#2e2e2e" stroke-width="1" fill="none"></path>
<path d="M77.0,489.5h1.4M413.0,489.5h-1.4M77.0,476.5h1.4M413.0,476.5h-1.4M77.0,470.5h1.4M413.0,470.5h-1.4M77.0,465.5h1.4M413.0,465.5h-1.4M77.0,459.5h1.4M413.0,459.5h-1.4M77.0,448.5h1.4M413.0,448.5h-1.4M77.0,442.5h1.4M413.0,442.5h-1.4M77.0,437.5h1.4M413.0,437.5h-1.4M77.0,432.5h1.4M413.0,432.5h-1.4M77.0,422.5h1.4M413.0,422.5h-1.4M77.0,417.5h1.4M413.0,417.5h-1.4M77.0,413.5h1.4M413.0,413.5h-1.4M77.0,408.5h1.4M413.0,408.5h-1.4M77.0,399.5h1.4M413.0,399.5h-1.4M77.0,394.5h1.4M413.0,394.5h-1.4M77.0,390.5h1.4M413.0,390.5h-1.4M77.0,386.5h1.4M413.0,386.5h-1.4M77.0,378.5h1.4M413.0,378.5h-1.4M77.0,374.5h1.4M413.0,374.5h-1.4M77.0,370.5h1.4M413.0,370.5h-1.4M77.0,366.5h1.4M413.0,366.5h-1.4M77.0,358.5h1.4M413.0,358.5h-1.4M77.0,354.5h1.4M413.0,354.5h-1.4M77.0,351.5h1.4M413.0,351.5h-1.4M77.0,347.5h1.4M413.0,347.5h-1.4M77.0,340.5h1.4M413.0,340.5h-1.4M77.0,336.5h1.4M413.0,336.5h-1.4M77.0,333.5h1.4M413.0,333.5h-1.4M77.0,330.5h1.4M413.0,330.5h-1.4M77.0,323.5h1.4M413.0,323.5h-1.4M77.0,320.5h1.4M413.0,320.5h-1.4M77.0,317.5h1.4M413.0,317.5h-1.4M77.0,313.5h1.4M413.0,313.5h-1.4M77.0,307.5h1.4M413.0,307.5h-1.4M77.0,304.5h1.4M413.0,304.5h-1.4M77.0,301.5h1.4M413.0,301.5h-1.4M77.0,298.5h1.4M413.0,298.5h-1.4M77.0,292.5h1.4M413.0,292.5h-1.4M77.0,289.5h1.4M413.0,289.5h-1.4M77.0,287.5h1.4M413.0,287.5h-1.4M77.5,492.6v-3M77.5,285.90000000000003v3M119.5,492.6v-3M119.5,285.90000000000003v3M140.5,492.6v-3M140.5,285.90000000000003v3M155.5,492.6v-3M155.5,285.90000000000003v3M166.5,492.6v-3M166.5,285.90000000000003v3M176.5,492.6v-3M176.5,285.90000000000003v3M184.5,492.6v-3M184.5,285.90000000000003v3M191.5,492.6v-3M191.5,285.90000000000003v3M197.5,492.6v-3M197.5,285.90000000000003v3M238.5,492.6v-3M238.5,285.90000000000003v3M259.5,492.6v-3M259.5,285.90000000000003v3M274.5,492.6v-3M274.5,285.90000000000003v3M286.5,492.6v-3M286.5,285.90000000000003v3M296.5,492.6v-3M296.5,285.90000000000003v3M304.5,492.6v-3M304.5,285.90000000000003v3M310.5,492.6v-3M310.5,285.90000000000003v3M317.5,492.6v-3M317.5,285.90000000000003v3M358.5,492.6v-3M358.5,285.90000000000003v3M379.5,492.6v-3M379.5,285.90000000000003v3M394.5,492.6v-3M394.5,285.90000000000003v3" stroke="#333" stroke-width="1" fill="none"></path>
<text x="72.20" y="487.21" font-size="12" text-anchor="end" font-family="Liberation Sans, sans-serif">0.8</text>
<text x="72.20" y="457.94" font-size="12" text-anchor="end" font-family="Liberation Sans, sans-serif">0.9</text>
<text x="72.20" y="431.76" font-size="12" text-anchor="end" font-family="Liberation Sans, sans-serif"> .</text><path transform="translate(61.98,431.76) scale(0.005859,-0.005859)" d="M515,0 L515,1237 L197,1010 L197,1180 L530,1409 L696,1409 L696,0 Z" class="g1"></path>
<text x="72.20" y="408.08" font-size="12" text-anchor="end" font-family="Liberation Sans, sans-serif"> . </text><path transform="translate(65.98,408.08) scale(0.005859,-0.005859)" d="M515,0 L515,1237 L197,1010 L197,1180 L530,1409 L696,1409 L696,0 Z" class="g1"></path><path transform="translate(55.98,408.08) scale(0.005859,-0.005859)" d="M515,0 L515,1237 L197,1010 L197,1180 L530,1409 L696,1409 L696,0 Z" class="g1"></path>
<text x="72.20" y="386.45" font-size="12" text-anchor="end" font-family="Liberation Sans, sans-serif"> .2</text><path transform="translate(55.98,386.45) scale(0.005859,-0.005859)" d="M515,0 L515,1237 L197,1010 L197,1180 L530,1409 L696,1409 L696,0 Z" class="g1"></path>
<text x="72.20" y="366.56" font-size="12" text-anchor="end" font-family="Liberation Sans, sans-serif"> .3</text><path transform="translate(55.98,366.56) scale(0.005859,-0.005859)" d="M515,0 L515,1237 L197,1010 L197,1180 L530,1409 L696,1409 L696,0 Z" class="g1"></path>
<text x="72.20" y="348.15" font-size="12" text-anchor="end" font-family="Liberation Sans, sans-serif"> .4</text><path transform="translate(55.98,348.15) scale(0.005859,-0.005859)" d="M515,0 L515,1237 L197,1010 L197,1180 L530,1409 L696,1409 L696,0 Z" class="g1"></path>
<text x="72.20" y="331.00" font-size="12" text-anchor="end" font-family="Liberation Sans, sans-serif"> .5</text><path transform="translate(55.98,331.00) scale(0.005859,-0.005859)" d="M515,0 L515,1237 L197,1010 L197,1180 L530,1409 L696,1409 L696,0 Z" class="g1"></path>
<text x="72.20" y="314.96" font-size="12" text-anchor="end" font-family="Liberation Sans, sans-serif"> .6</text><path transform="translate(55.98,314.96) scale(0.005859,-0.005859)" d="M515,0 L515,1237 L197,1010 L197,1180 L530,1409 L696,1409 L696,0 Z" class="g1"></path>
<text x="72.20" y="299.90" font-size="12" text-anchor="end" font-family="Liberation Sans, sans-serif"> .7</text><path transform="translate(55.98,299.90) scale(0.005859,-0.005859)" d="M515,0 L515,1237 L197,1010 L197,1180 L530,1409 L696,1409 L696,0 Z" class="g1"></path>
<text transform="translate(83.30,511.40) scale(1.03,1)" text-anchor="middle" font-size="12" font-family="Liberation Sans, sans-serif"> × 0<tspan font-size="8.3" dy="-5.2" dx="0.6"> 3</tspan></text><path transform="translate(83.30,511.40) scale(1.03,1) translate(9.27,-5.20) scale(0.004053,-0.004053)" d="M515,0 L515,1237 L197,1010 L197,1180 L530,1409 L696,1409 L696,0 Z" class="g1"></path><path transform="translate(83.30,511.40) scale(1.03,1) translate(-4.28,0.00) scale(0.005859,-0.005859)" d="M515,0 L515,1237 L197,1010 L197,1180 L530,1409 L696,1409 L696,0 Z" class="g1"></path><path transform="translate(83.30,511.40) scale(1.03,1) translate(-18.84,0.00) scale(0.005859,-0.005859)" d="M515,0 L515,1237 L197,1010 L197,1180 L530,1409 L696,1409 L696,0 Z" class="g1"></path>
<text transform="translate(203.05,511.40) scale(1.03,1)" text-anchor="middle" font-size="12" font-family="Liberation Sans, sans-serif"> × 0<tspan font-size="8.3" dy="-5.2" dx="0.6"> 4</tspan></text><path transform="translate(203.05,511.40) scale(1.03,1) translate(9.51,-5.20) scale(0.004053,-0.004053)" d="M515,0 L515,1237 L197,1010 L197,1180 L530,1409 L696,1409 L696,0 Z" class="g1"></path><path transform="translate(203.05,511.40) scale(1.03,1) translate(-5.01,0.00) scale(0.005859,-0.005859)" d="M515,0 L515,1237 L197,1010 L197,1180 L530,1409 L696,1409 L696,0 Z" class="g1"></path><path transform="translate(203.05,511.40) scale(1.03,1) translate(-18.60,0.00) scale(0.005859,-0.005859)" d="M515,0 L515,1237 L197,1010 L197,1180 L530,1409 L696,1409 L696,0 Z" class="g1"></path>
<text transform="translate(322.80,511.40) scale(1.03,1)" text-anchor="middle" font-size="12" font-family="Liberation Sans, sans-serif"> × 0<tspan font-size="8.3" dy="-5.2" dx="0.6"> 5</tspan></text><path transform="translate(322.80,511.40) scale(1.03,1) translate(8.79,-5.20) scale(0.004053,-0.004053)" d="M515,0 L515,1237 L197,1010 L197,1180 L530,1409 L696,1409 L696,0 Z" class="g1"></path><path transform="translate(322.80,511.40) scale(1.03,1) translate(-4.77,0.00) scale(0.005859,-0.005859)" d="M515,0 L515,1237 L197,1010 L197,1180 L530,1409 L696,1409 L696,0 Z" class="g1"></path><path transform="translate(322.80,511.40) scale(1.03,1) translate(-18.36,0.00) scale(0.005859,-0.005859)" d="M515,0 L515,1237 L197,1010 L197,1180 L530,1409 L696,1409 L696,0 Z" class="g1"></path>
<text transform="translate(406.50,511.40) scale(1.03,1)" text-anchor="middle" font-size="12" font-family="Liberation Sans, sans-serif">5× 0<tspan font-size="8.3" dy="-5.2" dx="0.6"> 5</tspan></text><path transform="translate(406.50,511.40) scale(1.03,1) translate(9.08,-5.20) scale(0.004053,-0.004053)" d="M515,0 L515,1237 L197,1010 L197,1180 L530,1409 L696,1409 L696,0 Z" class="g1"></path><path transform="translate(406.50,511.40) scale(1.03,1) translate(-4.47,0.00) scale(0.005859,-0.005859)" d="M515,0 L515,1237 L197,1010 L197,1180 L530,1409 L696,1409 L696,0 Z" class="g1"></path>
<text x="211.40" y="536.70" font-size="12.3" text-anchor="start" font-family="Liberation Sans, sans-serif">M</text>
<text x="225.60" y="536.70" font-size="12.3" text-anchor="start" font-family="Liberation Sans, sans-serif">(</text>
<text x="229.80" y="536.70" font-size="12.3" text-anchor="start" font-family="Liberation Sans, sans-serif">M</text>
<circle cx="244.9" cy="536.00" r="3.3" fill="none" stroke="#000" stroke-width="0.9"></circle><circle cx="244.8" cy="535.90" r="0.75" fill="#000"></circle>
<text x="255.3" y="536.70" font-size="12.3" font-family="Liberation Sans, sans-serif" font-style="italic">h</text>
<text x="263.20" y="530.60" font-size="8.3" text-anchor="start" font-family="Liberation Sans, sans-serif">−</text>
<text x="269.50" y="530.60" font-size="8.3" text-anchor="start" font-family="Liberation Sans, sans-serif"> </text><path transform="translate(269.91,530.60) scale(0.004053,-0.004053)" d="M515,0 L515,1237 L197,1010 L197,1180 L530,1409 L696,1409 L696,0 Z" class="g1"></path>
<text x="275.00" y="536.70" font-size="12.3" text-anchor="start" font-family="Liberation Sans, sans-serif">)</text>
<text transform="translate(227.40,315.50) scale(1.1,1)" font-size="14.5" text-anchor="start" font-family="Liberation Sans, sans-serif"><tspan stroke="#000" stroke-width="0.45">z</tspan> <tspan dy="1.3">=</tspan> <tspan dy="-1.3"> </tspan></text><path transform="translate(227.40,315.50) scale(1.1,1) translate(24.17,0.00) scale(0.007080,-0.007080)" d="M515,0 L515,1237 L197,1010 L197,1180 L530,1409 L696,1409 L696,0 Z" class="g1"></path>
<text transform="translate(131.50,338.90) scale(1.2,1)" font-size="10.2" text-anchor="middle" font-family="Liberation Sans, sans-serif">ΛCDM</text>
<line x1="162.7" y1="334.20" x2="210.8" y2="334.20" stroke="#000000" stroke-width="2.8" stroke-dashoffset="0"></line>
<text transform="translate(131.50,353.80) scale(1.2,1)" font-size="10.2" text-anchor="middle" font-family="Liberation Sans, sans-serif">w=−0.8</text>
<line x1="162.7" y1="349.10" x2="204" y2="349.10" stroke="#0000ff" stroke-width="2.8" stroke-dasharray="8.1 7.19" stroke-dashoffset="0"></line>
<text transform="translate(131.50,368.70) scale(1.2,1)" font-size="10.2" text-anchor="middle" font-family="Liberation Sans, sans-serif">w=−0.9</text>
<line x1="162.7" y1="364.00" x2="206.5" y2="364.00" stroke="#00ff00" stroke-width="2.8" stroke-dasharray="3.8 2.79" stroke-dashoffset="0"></line>
<text transform="translate(131.50,383.60) scale(1.2,1)" font-size="10.2" text-anchor="middle" font-family="Liberation Sans, sans-serif">w=− . </text><path transform="translate(131.50,383.60) scale(1.2,1) translate(11.19,0.00) scale(0.004980,-0.004980)" d="M515,0 L515,1237 L197,1010 L197,1180 L530,1409 L696,1409 L696,0 Z" class="g1"></path><path transform="translate(131.50,383.60) scale(1.2,1) translate(2.85,0.00) scale(0.004980,-0.004980)" d="M515,0 L515,1237 L197,1010 L197,1180 L530,1409 L696,1409 L696,0 Z" class="g1"></path>
<line x1="162.7" y1="378.90" x2="210.8" y2="378.90" stroke="#ff8000" stroke-width="2.8" stroke-dasharray="23.6 4.4 3.9 4.1" stroke-dashoffset="28.0"></line>
<text transform="translate(131.50,398.50) scale(1.2,1)" font-size="10.2" text-anchor="middle" font-family="Liberation Sans, sans-serif">w=− .2</text><path transform="translate(131.50,398.50) scale(1.2,1) translate(2.85,0.00) scale(0.004980,-0.004980)" d="M515,0 L515,1237 L197,1010 L197,1180 L530,1409 L696,1409 L696,0 Z" class="g1"></path>
<line x1="162.7" y1="393.80" x2="210.8" y2="393.80" stroke="#ff00ff" stroke-width="2.8" stroke-dasharray="23.5 7.58" stroke-dashoffset="0"></line>
<g transform="rotate(-90)"><text transform="translate(-444.23,11.30) scale(1.1,1)" font-size="11.4" font-family="Liberation Sans, sans-serif">dn</text><text transform="translate(-429.45,14.00) scale(1.1,1)" font-size="8.2" font-family="Liberation Sans, sans-serif" font-style="italic">m+Q</text><text transform="translate(-397.63,11.30) scale(1.1,1)" font-size="11.4" font-family="Liberation Sans, sans-serif">dM</text><text transform="translate(-376.78,11.30) scale(1.1,1)" font-size="11.4" font-family="Liberation Sans, sans-serif">(</text><text transform="translate(-372.01,11.30) scale(1.1,1)" font-size="11.4" font-family="Liberation Sans, sans-serif" font-style="italic">c</text><text transform="translate(-366.05,13.80) scale(1.1,1)" font-size="8.2" font-family="Liberation Sans, sans-serif">s</text><text transform="translate(-356.71,12.50) scale(1.1,1)" font-size="11.4" font-family="Liberation Sans, sans-serif">=</text><text transform="translate(-345.29,11.30) scale(1.1,1)" font-size="11.4" font-family="Liberation Sans, sans-serif">0</text><text transform="translate(-337.98,11.30) scale(1.1,1)" font-size="11.4" font-family="Liberation Sans, sans-serif">)</text><text transform="translate(-432.43,39.30) scale(1.1,1)" font-size="11.4" font-family="Liberation Sans, sans-serif">dn</text><text transform="translate(-409.43,39.30) scale(1.1,1)" font-size="11.4" font-family="Liberation Sans, sans-serif">dM</text><text transform="translate(-389.08,39.30) scale(1.1,1)" font-size="11.4" font-family="Liberation Sans, sans-serif">(</text><text transform="translate(-383.91,39.30) scale(1.1,1)" font-size="11.4" font-family="Liberation Sans, sans-serif" font-style="italic">c</text><text transform="translate(-377.25,41.80) scale(1.1,1)" font-size="8.2" font-family="Liberation Sans, sans-serif">s</text><text transform="translate(-368.71,40.50) scale(1.1,1)" font-size="11.4" font-family="Liberation Sans, sans-serif">=</text><text transform="translate(-357.25,39.30) scale(1.1,1)" font-size="11.4" font-family="Liberation Sans, sans-serif"> </text><path transform="translate(-357.25,39.30) scale(1.1,1) translate(-0.01,0.00) scale(0.005566,-0.005566)" d="M515,0 L515,1237 L197,1010 L197,1180 L530,1409 L696,1409 L696,0 Z" class="g1"></path><text transform="translate(-350.18,39.30) scale(1.1,1)" font-size="11.4" font-family="Liberation Sans, sans-serif">)</text></g>
<line x1="16.6" y1="405.20" x2="-0.5" y2="399.70" stroke="#000" stroke-width="1.05"></line>
<line x1="41.6" y1="415.50" x2="31.4" y2="412.00" stroke="#000" stroke-width="1.05"></line>
<line x1="21.5" y1="333.30" x2="21.5" y2="443.80" stroke="#000" stroke-width="1"></line>
</svg></body></html>
